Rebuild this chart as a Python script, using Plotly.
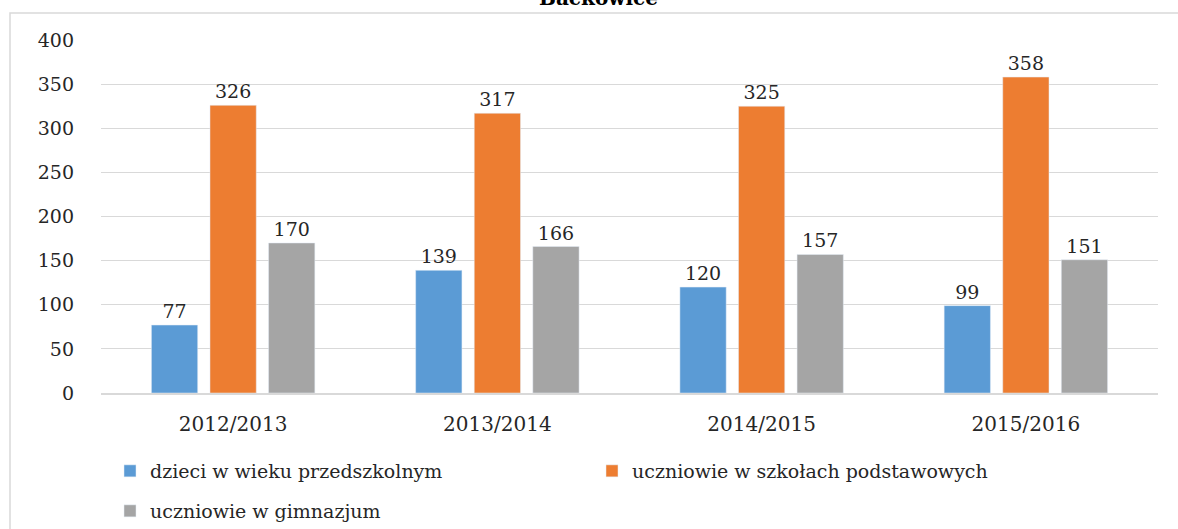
import plotly.graph_objects as go

categories = ["2012/2013", "2013/2014", "2014/2015", "2015/2016"]
przedszkolne = [77, 139, 120, 99]
podstawowe = [326, 317, 325, 358]
gimnazjum = [170, 166, 157, 151]
series_names = ["dzieci w wieku przedszkolnym", "uczniowie w szkołach podstawowych", "uczniowie w gimnazjum"]
colors = ["#5B9BD5", "#ED7D31", "#A5A5A5"]

FONT = "DejaVu Serif"
W, H = 1178, 529
L, R, T, B = 101, 20, 40, 136
pw = W - L - R
ph = H - T - B

def px(x):
    return (x - L) / pw

def py(y):
    return (H - B - y) / ph

legend_ids = ["legend", "legend2", "legend3"]
legend_pos = [(110, 452), (592, 452), (110, 492)]

fig = go.Figure()
for i, (name, vals) in enumerate(zip(series_names, [przedszkolne, podstawowe, gimnazjum])):
    fig.add_trace(go.Bar(
        x=categories, y=vals, name=name, marker_color=colors[i],
        text=vals, textposition="outside", cliponaxis=False,
        textfont=dict(family=FONT, size=19, color="#262626"),
        legend=legend_ids[i],
    ))

legend_common = dict(orientation="h", xanchor="left", yanchor="top",
                     xref="container", yref="container",
                     font=dict(family=FONT, size=19, color="#262626"),
                     bgcolor="rgba(0,0,0,0)")
layout_legends = {}
for lid, (lx, ly) in zip(legend_ids, legend_pos):
    layout_legends[lid] = dict(legend_common, x=lx / W, y=1 - ly / H)

fig.update_layout(
    width=W, height=H,
    margin=dict(l=L, r=R, t=T, b=B),
    paper_bgcolor="white", plot_bgcolor="white",
    barmode="group", bargap=0.335, bargroupgap=0.21,
    font=dict(family=FONT, size=19, color="#262626"),
    showlegend=True,
    xaxis=dict(showgrid=False, showline=True, linecolor="#D9D9D9", linewidth=2,
               ticks="", ticklabelstandoff=12,
               tickfont=dict(family=FONT, size=20, color="#262626")),
    yaxis=dict(range=[0, 400], dtick=50, showgrid=True, gridcolor="#D9D9D9", gridwidth=1,
               zeroline=False, showline=False, ticks="", ticklabelstandoff=26,
               tickfont=dict(family=FONT, size=19, color="#262626")),
    shapes=[dict(type="rect", xref="paper", yref="paper",
                 x0=px(10), x1=px(1190), y0=py(540), y1=py(13),
                 line=dict(color="#D9D9D9", width=1.5), fillcolor="rgba(0,0,0,0)", layer="below")],
    annotations=[dict(text="<b>Baćkowice</b>", xref="paper", yref="paper",
                      x=px(598), y=py(-2), xanchor="center", yanchor="middle",
                      showarrow=False, font=dict(family=FONT, size=20, color="#000000"))],
    **layout_legends,
)

fig.write_html("out.html", config={"displayModeBar": False},
               post_script="document.body.style.margin='0';document.body.style.overflow='hidden';")
